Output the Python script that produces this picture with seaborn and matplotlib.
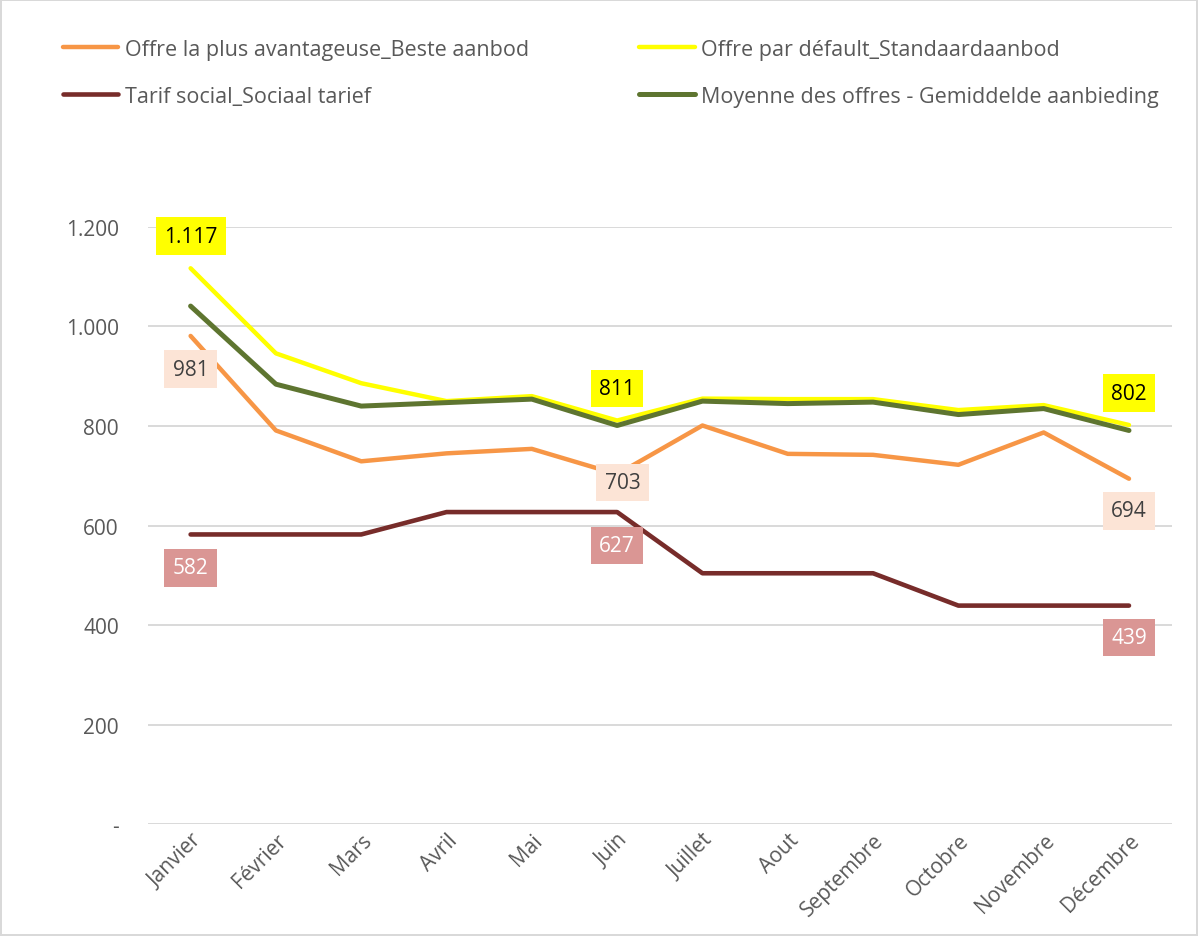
import numpy as np
import pandas as pd
import matplotlib
matplotlib.use('Agg')
import matplotlib.pyplot as plt
import seaborn as sns


MONTHS = ['Janvier', 'Février', 'Mars', 'Avril', 'Mai', 'Juin', 'Juillet',
          'Aout', 'Septembre', 'Octobre', 'Novembre', 'Décembre']

BEST = [981, 791, 729, 745, 754, 703, 801, 744, 742, 722, 787, 694]
DEFAULT = [1117, 946, 886, 850, 860, 811, 855, 854, 854, 832, 842, 802]
SOCIAL = [582, 582, 582, 627, 627, 627, 504, 504, 504, 439, 439, 439]
AVERAGE = [1041, 884, 840, 847, 854, 801, 850, 845, 848, 823, 835, 791]

NAMES = ['Offre la plus avantageuse_Beste aanbod',
         'Offre par défault_Standaardaanbod',
         'Tarif social_Sociaal tarief',
         'Moyenne des offres - Gemiddelde aanbieding']

YTICKS = [0, 200, 400, 600, 800, 1000, 1200]


def fmt(v):
	if v == 0:
		return '-'
	return '{:,}'.format(int(v)).replace(',', '.')


sns.set_style('white')
plt.rcParams['font.family'] = ['Open Sans', 'DejaVu Sans']

fig = plt.figure(figsize = (11.98, 9.37), dpi = 100)
fig.patch.set_edgecolor('#D9D9D9')
fig.patch.set_linewidth(1.5)
ax = fig.add_axes([0.1235, 0.1195, 0.8545, 0.6372])

x = np.arange(len(MONTHS))
series = [
	(BEST, '#F79646', 3.2, 2),
	(DEFAULT, '#FFFF00', 3.2, 3),
	(SOCIAL, '#772C2A', 3.3, 4),
	(AVERAGE, '#5E7530', 3.6, 5),
]
handles = []
for (vals, color, lw, z), name in zip(series, NAMES):
	df = pd.DataFrame({'x': x, 'y': vals})
	sns.lineplot(data = df, x = 'x', y = 'y', color = color, linewidth = lw, ax = ax,
	             zorder = z, solid_capstyle = 'round', solid_joinstyle = 'round', label = name)
	handles.append(ax.lines[-1])

ax.get_legend().remove()
ax.set_xlim(-0.5, len(MONTHS) - 0.5)
ax.set_ylim(0, 1200)
ax.set_yticks(YTICKS)
ax.set_yticklabels([fmt(v) for v in YTICKS], fontsize = 15, color = '#595959')
ax.set_xticks(x)
ax.set_xticklabels(MONTHS, fontsize = 15, color = '#595959', rotation = 45,
                   ha = 'right', rotation_mode = 'anchor')
ax.tick_params(axis = 'y', pad = 21, length = 0)
ax.tick_params(axis = 'x', pad = 4, length = 0)
ax.set_xlabel('')
ax.set_ylabel('')
for s in ax.spines.values():
	s.set_visible(False)
ax.grid(axis = 'y', color = '#D9D9D9', linewidth = 1.4)
ax.set_axisbelow(True)

# data labels: (series values, index, y offset in points, x offset, box color, text color)
labels = [
	(DEFAULT, 0, 23, 0, '#FFFF00', 'black'),
	(DEFAULT, 5, 23, 0, '#FFFF00', 'black'),
	(DEFAULT, 11, 23, 0, '#FFFF00', 'black'),
	(BEST, 0, -24, 0, '#FCE4D6', '#404040'),
	(BEST, 5, -6, 4, '#FCE4D6', '#404040'),
	(BEST, 11, -23, 0, '#FCE4D6', '#404040'),
	(SOCIAL, 0, -24, 0, '#DA9694', 'white'),
	(SOCIAL, 5, -24, 0, '#DA9694', 'white'),
	(SOCIAL, 11, -23, 0, '#DA9694', 'white'),
]
for vals, i, dy, dx, bg, tc in labels:
	ax.annotate(fmt(vals[i]), (i, vals[i]), xytext = (dx, dy), textcoords = 'offset points',
	            ha = 'center', va = 'center', fontsize = 15, color = tc, zorder = 10,
	            bbox = dict(boxstyle = 'square,pad=0.4', fc = bg, ec = 'none'))

order = [0, 2, 1, 3]
fig.legend([handles[k] for k in order], [NAMES[k] for k in order], ncol = 2,
           loc = 'upper left', bbox_to_anchor = (0.036, 0.978), frameon = False,
           fontsize = 15.5, labelcolor = '#595959', handlelength = 2.6,
           columnspacing = 5.1, labelspacing = 1.2, handletextpad = 0.3)

fig.savefig('out.png', dpi = 100)
plt.close()
